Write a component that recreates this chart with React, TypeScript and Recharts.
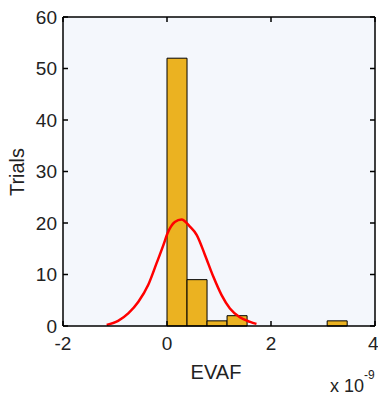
import React from 'react';
import { ComposedChart, Line, XAxis, YAxis, CartesianGrid, ReferenceArea } from 'recharts';

// histogram bins (EVAF, units of 1e-9)
const binStarts = [0, 0.385, 0.77, 1.155, 3.08];
const binEnds = [0.385, 0.77, 1.155, 1.54, 3.465];
const binCounts = [52, 9, 1, 2, 1];

// fitted curve
const curveX = [-1.16, -0.94, -0.74, -0.55, -0.36, -0.2, -0.07, 0.01, 0.15, 0.28, 0.44, 0.57, 0.73, 0.89, 1.05, 1.21, 1.4, 1.6, 1.72];
const curveY = [0.2, 1.0, 2.5, 4.7, 8.0, 12.2, 15.7, 18.0, 20.2, 20.7, 19.3, 17.7, 13.8, 9.6, 6.0, 3.4, 1.7, 0.8, 0.4];

const xTicks = [-2, 0, 2, 4];
const yTicks = [0, 10, 20, 30, 40, 50, 60];

const FONT = "'Liberation Sans', Arial, sans-serif";
const TEXT = '#222';

const curveData = curveX.map((x, i) => ({ x, y: curveY[i] }));

const tickStyle = { fill: TEXT, fontSize: 19, fontFamily: FONT };

const App: React.FC = () => {
  return (
    <div style={{ position: 'absolute', left: 0, top: 0, width: 378, height: 396, background: '#fff' }}>
      <ComposedChart
        width={378}
        height={396}
        data={curveData}
        margin={{ top: 16, right: 2, bottom: 0, left: 0 }}
      >
        <CartesianGrid horizontal={false} vertical={false} fill="#F4F7FC" />
        <XAxis
          dataKey="x"
          type="number"
          domain={[-2, 4]}
          allowDataOverflow
          ticks={xTicks}
          height={70}
          tickSize={-5}
          tickMargin={16}
          stroke="#000"
          strokeWidth={1.5}
          tick={tickStyle}
          label={{
            content: () => (
              <g fontFamily={FONT} fill={TEXT}>
                <text x={216} y={372} textAnchor="middle" dominantBaseline="central" fontSize={20}>EVAF</text>
                <text x={330} y={386} dominantBaseline="central" fontSize={18}>x 10</text>
                <text x={364} y={375} dominantBaseline="central" fontSize={12}>-9</text>
              </g>
            ),
          }}
        />
        {/* box top edge with inward ticks */}
        <XAxis
          xAxisId="top"
          dataKey="x"
          orientation="top"
          type="number"
          domain={[-2, 4]}
          allowDataOverflow
          ticks={xTicks}
          height={1}
          tickSize={-5}
          stroke="#000"
          strokeWidth={1.5}
          tick={() => <g />}
        />
        <YAxis
          type="number"
          domain={[0, 60]}
          allowDataOverflow
          ticks={yTicks}
          width={63}
          tickSize={-5}
          tickMargin={11}
          stroke="#000"
          strokeWidth={1.5}
          tick={tickStyle}
          label={{
            content: () => (
              <text
                x={17}
                y={172}
                transform="rotate(-90 17 172)"
                textAnchor="middle"
                dominantBaseline="central"
                fontSize={20}
                fontFamily={FONT}
                fill={TEXT}
              >
                Trials
              </text>
            ),
          }}
        />
        {/* box right edge with inward ticks */}
        <YAxis
          yAxisId="right"
          dataKey="y"
          orientation="right"
          type="number"
          domain={[0, 60]}
          allowDataOverflow
          ticks={yTicks}
          width={1}
          tickSize={-5}
          stroke="#000"
          strokeWidth={1.5}
          tick={() => <g />}
        />
        {binCounts.map((c, i) => (
          <ReferenceArea
            key={i}
            x1={binStarts[i]}
            x2={binEnds[i]}
            y1={0}
            y2={c}
            fill="#EBB221"
            fillOpacity={1}
            stroke="#000"
            strokeWidth={1}
          />
        ))}
        <Line
          dataKey="y"
          type="monotone"
          stroke="#FF0000"
          strokeWidth={2.5}
          dot={false}
          isAnimationActive={false}
        />
      </ComposedChart>
    </div>
  );
};

export default App;
